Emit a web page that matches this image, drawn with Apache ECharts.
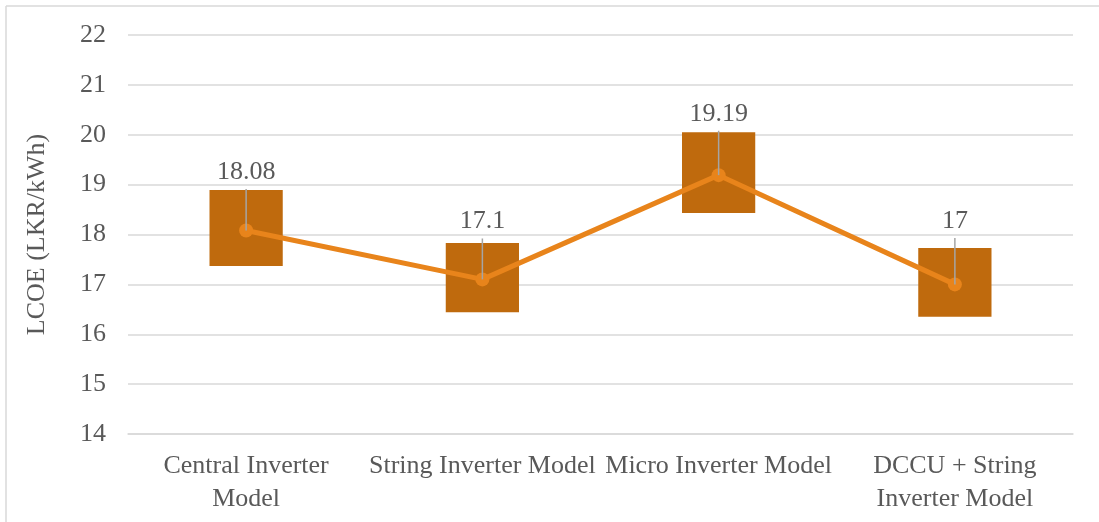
<!DOCTYPE html>
<html>
<head>
<meta charset="utf-8">
<style>
  html, body { margin: 0; padding: 0; background: #ffffff; }
  #chart { width: 1099px; height: 522px; }
</style>
<script src="https://cdn.jsdelivr.net/npm/echarts@6/dist/echarts.min.js"></script>
</head>
<body>
<div id="chart"></div>
<script>
// LCOE per inverter configuration
const categories = ['Central Inverter\nModel', 'String Inverter Model', 'Micro Inverter Model', 'DCCU + String\nInverter Model'];
const lcoe = [18.08, 17.1, 19.19, 17];
// range bars (low / high) around each model
const boxLow = [17.37, 16.44, 18.43, 16.35];
const boxHigh = [18.89, 17.83, 20.05, 17.73];
// positive error amount above each value
const errorPlus = [0.83, 0.82, 0.89, 0.93];
const yTicks = { min: 14, max: 22, interval: 1 };

const FONT = '"Liberation Serif", "Times New Roman", serif';
const TEXT = '#595959';

const chart = echarts.init(document.getElementById('chart'), null, { renderer: 'canvas' });

chart.setOption({
  backgroundColor: '#ffffff',
  animation: false,
  graphic: [
    { type: 'line', shape: { x1: 6, y1: 6, x2: 1099, y2: 6 }, style: { stroke: '#d9d9d9', lineWidth: 1.5 } },
    { type: 'line', shape: { x1: 6, y1: 6, x2: 6, y2: 522 }, style: { stroke: '#d9d9d9', lineWidth: 1.5 } }
  ],
  grid: { left: 128, right: 26, top: 35, bottom: 88 },
  xAxis: {
    type: 'category',
    data: categories,
    boundaryGap: true,
    axisLine: { lineStyle: { color: '#d9d9d9', width: 1.5 } },
    axisTick: { show: false },
    axisLabel: { interval: 0, color: TEXT, fontFamily: FONT, fontSize: 26, lineHeight: 33, margin: 16 }
  },
  yAxis: {
    type: 'value',
    min: yTicks.min, max: yTicks.max, interval: yTicks.interval,
    name: 'LCOE (LKR/kWh)',
    nameLocation: 'middle',
    nameGap: 78,
    nameTextStyle: { color: TEXT, fontFamily: FONT, fontSize: 26 },
    axisLine: { show: false },
    axisTick: { show: false },
    axisLabel: { color: TEXT, fontFamily: FONT, fontSize: 26, margin: 22 },
    splitLine: { lineStyle: { color: '#d9d9d9', width: 1.5 } }
  },
  series: [
    {
      // range boxes
      type: 'custom',
      z: 1,
      data: categories.map((c, i) => [i, boxLow[i], boxHigh[i]]),
      renderItem: function (params, api) {
        const lo = api.coord([api.value(0), api.value(1)]);
        const hi = api.coord([api.value(0), api.value(2)]);
        const w = api.size([1, 0])[0] * 0.31;
        return {
          type: 'rect',
          shape: { x: lo[0] - w / 2, y: hi[1], width: w, height: lo[1] - hi[1] },
          style: { fill: '#bf6a0d' }
        };
      }
    },
    {
      type: 'line',
      z: 2,
      data: lcoe,
      symbol: 'circle',
      symbolSize: 14,
      lineStyle: { color: '#e8841b', width: 5 },
      itemStyle: { color: '#e8841b' }
    },
    {
      // error bars with value labels
      type: 'custom',
      z: 3,
      data: categories.map((c, i) => [i, lcoe[i], lcoe[i] + errorPlus[i]]),
      renderItem: function (params, api) {
        const p = api.coord([api.value(0), api.value(1)]);
        const t = api.coord([api.value(0), api.value(2)]);
        return {
          type: 'group',
          children: [
            {
              type: 'line',
              shape: { x1: p[0], y1: p[1], x2: t[0], y2: t[1] },
              style: { stroke: '#a5a5a5', lineWidth: 1.5 }
            },
            {
              type: 'text',
              x: t[0], y: t[1] - 4,
              style: {
                text: String(lcoe[params.dataIndex]),
                fill: TEXT, font: '26px ' + FONT,
                align: 'center', verticalAlign: 'bottom'
              }
            }
          ]
        };
      }
    }
  ]
});
</script>
</body>
</html>
